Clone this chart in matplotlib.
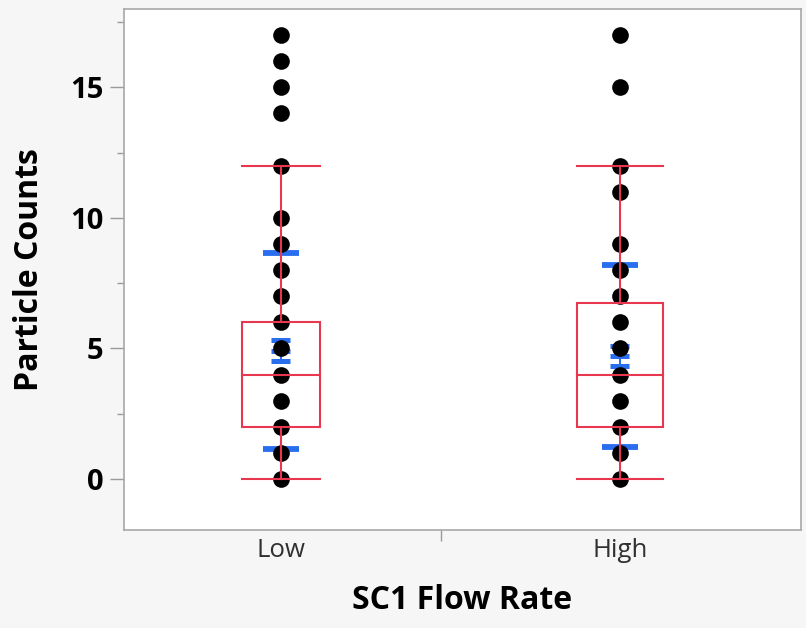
import matplotlib
matplotlib.use("Agg")
import matplotlib.pyplot as plt

# ---- data ----
categories = ["Low", "High"]
low_values = [0, 1, 2, 3, 4, 5, 6, 7, 8, 9, 10, 12, 14, 15, 16, 17]
high_values = [0, 1, 2, 3, 4, 5, 6, 7, 8, 9, 11, 12, 15, 17]
q1 = [2.0, 2.0]
median = [4.0, 4.0]
q3 = [6.0, 6.75]
whisker_lo = [0.0, 0.0]
whisker_hi = [12.0, 12.0]
mean = [4.91, 4.71]
std_dev = [3.76, 3.47]
std_err = [0.40, 0.38]
y_ticks = [0, 5, 10, 15]
y_minor = [2.5, 7.5, 12.5, 17.5]

# ---- style ----
RED = "#e8384f"
BLUE = "#2a6ef0"
BG = "#f6f6f6"
font = ["Open Sans", "DejaVu Sans"]
plt.rcParams["font.family"] = font

fig = plt.figure(figsize=(8.06, 6.28), dpi=100, facecolor=BG)
ax = fig.add_axes([124 / 806, (628 - 530) / 628, (801 - 124) / 806, (530 - 9) / 628])
ax.set_facecolor("white")

box_half = [0.115, 0.128]
std_half = 0.053
se_half = 0.028
groups = [low_values, high_values]

for i, vals in enumerate(groups):
    x = i
    # blue std dev lines
    for yv in (mean[i] - std_dev[i], mean[i] + std_dev[i]):
        ax.plot([x - std_half, x + std_half], [yv, yv], color=BLUE, lw=4.2,
                solid_capstyle="butt", zorder=2)
    # mean error bars
    for yv in (mean[i] - std_err[i], mean[i], mean[i] + std_err[i]):
        ax.plot([x - se_half, x + se_half], [yv, yv], color=BLUE, lw=3.6,
                solid_capstyle="butt", zorder=2)
    ax.plot([x, x], [mean[i] - std_err[i], mean[i] + std_err[i]], color=BLUE,
            lw=1.5, zorder=2)
    # points
    ax.plot([x] * len(vals), vals, "o", color="black", ms=12, zorder=3,
            markeredgewidth=0)
    # box plot
    h = box_half[i]
    ax.add_patch(plt.Rectangle((x - h, q1[i]), 2 * h, q3[i] - q1[i], fill=False,
                               edgecolor=RED, lw=1.5, zorder=4))
    ax.plot([x - h, x + h], [median[i], median[i]], color=RED, lw=1.5, zorder=4)
    ax.plot([x, x], [q3[i], whisker_hi[i]], color=RED, lw=1.5, zorder=4)
    ax.plot([x, x], [whisker_lo[i], q1[i]], color=RED, lw=1.5, zorder=4)
    ax.plot([x - h, x + h], [whisker_hi[i], whisker_hi[i]], color=RED, lw=1.5, zorder=4)
    ax.plot([x - h, x + h], [whisker_lo[i], whisker_lo[i]], color=RED, lw=1.5, zorder=4)

ax.set_yticks(y_ticks)
ax.set_yticks(y_minor, minor=True)
ax.set_yticklabels([str(t) for t in y_ticks], fontsize=21, fontweight="bold")
ax.tick_params(axis="y", which="major", length=10, width=1, color="#9a9a9a", pad=5)
ax.tick_params(axis="y", which="minor", length=5, width=1, color="#9a9a9a")

ax.set_xticks([0, 1])
ax.set_xticklabels(categories, fontsize=18.5, color="#303030")
ax.set_xticks([0.472], minor=True)
ax.tick_params(axis="x", which="major", length=0, pad=6)
ax.tick_params(axis="x", which="minor", length=8, width=1, color="#9a9a9a")

ax.set_xlim(-0.463, 1.534)
ax.set_ylim(-1.95, 18)

for sp in ax.spines.values():
    sp.set_color("#a8a8a8")
    sp.set_linewidth(1.2)

ax.set_ylabel("Particle Counts", fontsize=23, fontweight="bold", labelpad=17)
ax.set_xlabel("SC1 Flow Rate", fontsize=23, fontweight="bold", labelpad=15)

fig.savefig("out.png", dpi=100, facecolor=BG)
